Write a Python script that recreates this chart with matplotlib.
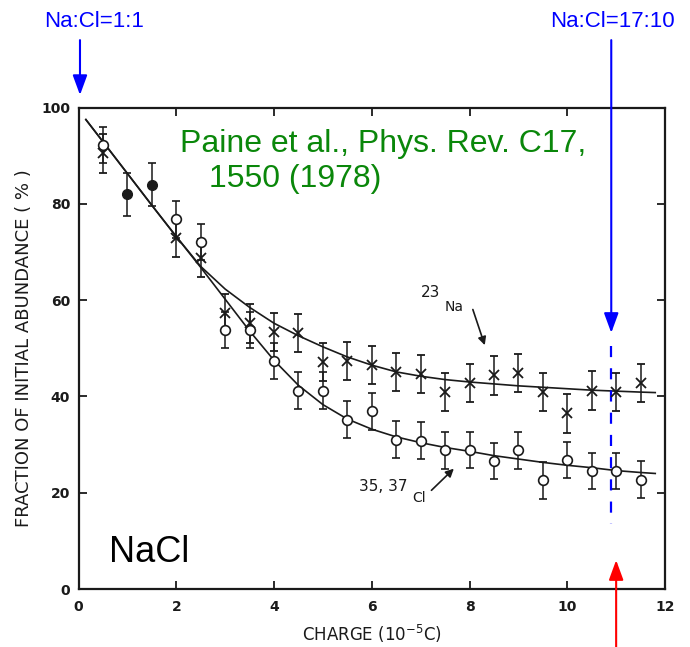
import numpy as np
import matplotlib.pyplot as plt

# measured points, 23Na (x markers)
na_q = [0.5, 2.0, 2.5, 3.0, 3.5, 4.0, 4.5, 5.0, 5.5, 6.0, 6.5, 7.0, 7.5,
        8.0, 8.5, 9.0, 9.5, 10.0, 10.5, 11.0, 11.5]
na_v = [90.5, 72.9, 68.7, 57.3, 55.2, 53.4, 53.2, 47.2, 47.4, 46.5, 45.1, 44.7,
        40.9, 42.8, 44.4, 44.9, 40.9, 36.5, 41.2, 40.9, 42.8]
na_err = [4.0] * len(na_q)

# measured points, 35,37Cl (open circles)
cl_q = [0.5, 2.0, 2.5, 3.0, 3.5, 4.0, 4.5, 5.0, 5.5, 6.0, 6.5, 7.0, 7.5,
        8.0, 8.5, 9.0, 9.5, 10.0, 10.5, 11.0, 11.5]
cl_v = [92.2, 76.8, 72.1, 53.8, 53.8, 47.4, 41.2, 41.2, 35.2, 36.9, 31.0, 30.8,
        28.8, 28.9, 26.6, 28.8, 22.6, 26.8, 24.5, 24.5, 22.7]
cl_err = [3.8] * len(cl_q)

# overlapping points (filled)
both_q = [1.0, 1.5]
both_v = [82.0, 84.0]
both_err = [4.5, 4.5]

# fitted curves
fit_q = [0.15, 0.5, 1.0, 1.5, 2.0, 2.5, 3.0, 3.5, 4.0, 4.5, 5.0, 5.5, 6.0,
         6.5, 7.0, 7.5, 8.0, 8.5, 9.0, 9.5, 10.0, 10.5, 11.0, 11.5, 11.8]
na_fit = [97.5, 92.9, 86.3, 79.7, 73.2, 67.0, 62.3, 58.5, 55.2, 52.6, 50.3, 48.2,
          46.5, 45.1, 44.2, 43.5, 43.0, 42.6, 42.2, 41.9, 41.6, 41.3, 41.1, 40.9, 40.8]
cl_fit = [97.5, 92.9, 86.3, 79.7, 73.2, 66.8, 60.2, 53.6, 47.5, 42.3, 38.3, 35.3,
          33.2, 31.6, 30.4, 29.4, 28.6, 27.7, 27.0, 26.3, 25.7, 25.2, 24.6, 24.2, 24.0]

x_ticks = [0, 2, 4, 6, 8, 10, 12]
y_ticks = [0, 20, 40, 60, 80, 100]
ratio_q = 10.9   # Na:Cl = 17:10 position
ink = "#1a1a1a"

fig = plt.figure(figsize=(6.9, 6.47), dpi=100)
ax = fig.add_axes([0.1138, 0.0896, 0.85, 0.7442])

ax.plot(fit_q, na_fit, color=ink, lw=1.2)
ax.plot(fit_q, cl_fit, color=ink, lw=1.2)

ax.errorbar(na_q, na_v, yerr=na_err, fmt="x", color=ink, ms=6.5, mew=1.3,
            elinewidth=1.1, capsize=3, capthick=1.2)
ax.errorbar(cl_q, cl_v, yerr=cl_err, fmt="o", color=ink, mfc="white", ms=7, mew=1.2,
            elinewidth=1.1, capsize=3, capthick=1.2)
ax.errorbar(both_q, both_v, yerr=both_err, fmt="o", color=ink, ms=7,
            elinewidth=1.1, capsize=3, capthick=1.2)

ax.set_xlim(0, 12)
ax.set_ylim(0, 100)
ax.set_xticks(x_ticks)
ax.set_yticks(y_ticks)
ax.tick_params(direction="in", length=6, width=1.3, top=True, right=True,
               labeltop=False, labelright=False, colors=ink, labelsize=10)
ax.tick_params(axis="x", pad=8)
ax.tick_params(axis="y", pad=6)
for lab in ax.get_xticklabels() + ax.get_yticklabels():
    lab.set_fontweight("bold")
for sp in ax.spines.values():
    sp.set_linewidth(1.6)
    sp.set_color(ink)

ax.set_xlabel("CHARGE (10$^{-5}$C)", fontsize=12, color=ink, labelpad=6)
ax.set_ylabel("FRACTION OF INITIAL ABUNDANCE ( % )", fontsize=13, color=ink, labelpad=6)

# isotope labels with arrows
ax.text(7.0, 60.6, "23", fontsize=11, color=ink)
ax.text(7.49, 57.7, "Na", fontsize=10, color=ink)
ax.annotate("", xy=(8.33, 50.1), xytext=(8.05, 58.6),
            arrowprops=dict(arrowstyle="-|>", color=ink, lw=1.2, mutation_scale=12))
ax.text(5.73, 20.4, "35, 37", fontsize=11, color=ink)
ax.text(6.82, 18.0, "Cl", fontsize=10, color=ink)
ax.annotate("", xy=(7.72, 25.4), xytext=(7.18, 20.1),
            arrowprops=dict(arrowstyle="-|>", color=ink, lw=1.2, mutation_scale=12))

ax.text(2.08, 90.8, "Paine et al., Phys. Rev. C17,", fontsize=23, color="#0a870a",
        family="Liberation Sans")
ax.text(2.67, 83.5, "1550 (1978)", fontsize=23, color="#0a870a", family="Liberation Sans")
ax.text(0.62, 5.6, "NaCl", fontsize=26, color="black", family="Liberation Sans")

# ratio markers
fig.text(0.0645, 0.958, "Na:Cl=1:1", fontsize=16, color="blue", family="Liberation Sans")
fig.text(0.978, 0.958, "Na:Cl=17:10", fontsize=16, color="blue", ha="right",
         family="Liberation Sans")
head = "-|>,head_length=0.6,head_width=0.22"
ax.annotate("", xy=(0.03, 1.026), xytext=(0.03, 1.14),
            xycoords=("data", "axes fraction"), textcoords=("data", "axes fraction"),
            arrowprops=dict(arrowstyle=head, color="blue", lw=1.5, mutation_scale=20,
                            shrinkA=0, shrinkB=0), annotation_clip=False)
ax.annotate("", xy=(ratio_q, 53.2), xytext=(ratio_q, 1.14),
            xycoords="data", textcoords=("data", "axes fraction"),
            arrowprops=dict(arrowstyle=head, color="blue", lw=1.5, mutation_scale=20,
                            shrinkA=0, shrinkB=0), annotation_clip=False)
ax.plot([ratio_q, ratio_q], [50.5, 13.5], color="blue", lw=1.6, dashes=(5, 5))
ax.annotate("", xy=(11.0, 6.0), xytext=(11.0, -0.125),
            xycoords="data", textcoords=("data", "axes fraction"),
            arrowprops=dict(arrowstyle=head, color="red", lw=1.5, mutation_scale=20,
                            shrinkA=0, shrinkB=0), annotation_clip=False)

fig.savefig("out.png", dpi=100)
